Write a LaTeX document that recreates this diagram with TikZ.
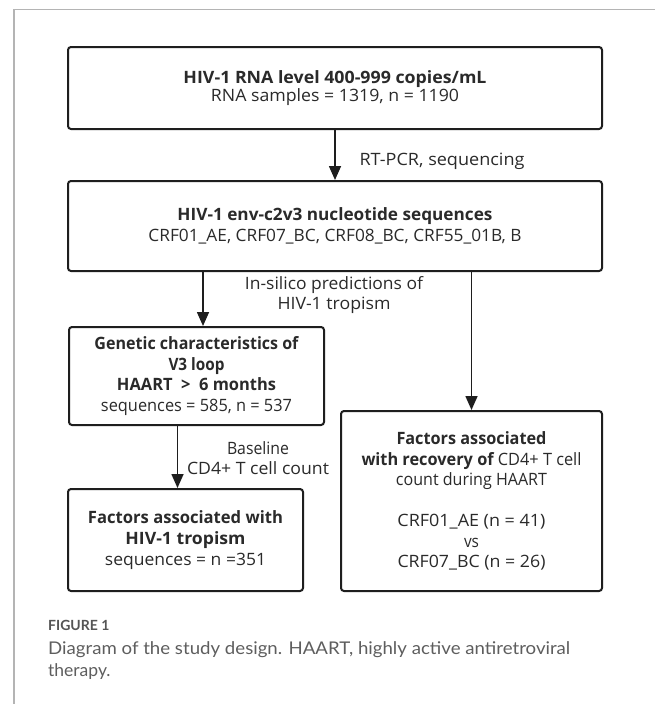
\documentclass[tikz,border=0pt]{standalone}
\usepackage{fontspec}
\usepackage{graphicx}
\setmainfont{Open Sans}
\newfontfamily\capfont{Lato}
\usetikzlibrary{arrows.meta}
\definecolor{ink}{HTML}{1E1E1E}
\definecolor{txt}{HTML}{2A2A2A}
\definecolor{frame}{HTML}{B4B4B4}
\definecolor{capgray}{HTML}{5E5E5E}
\newcommand\fw[2]{\resizebox{#1pt}{\height}{#2}}
\tikzset{
  box/.style={draw=ink, line width=2pt, rounded corners=3pt, inner sep=0pt,
    align=center, text=txt, font=\fontsize{17}{20.7}\selectfont},
  arr/.style={draw=ink, line width=1.6pt, -{Triangle[length=14pt,width=12pt]}},
  lbl/.style={inner sep=0pt, align=center, text=txt, font=\fontsize{17}{20}\selectfont},
  capnode/.style={inner sep=0pt, align=left, text=capgray, font=\capfont\fontsize{17.5}{22}\selectfont},
}
\begin{document}
\begin{tikzpicture}[x=1pt,y=-1pt]
\useasboundingbox (0,0) rectangle (655,704);
\fill[white] (0,0) rectangle (655,704);
% frame
\draw[frame, line width=1.2pt] (655,9.5) -- (14,9.5) -- (14,704);

% boxes
\node[box, minimum width=534pt, minimum height=82pt, font=\fontsize{17}{18}\selectfont] (b1) at (335,88)
  {\fw{303}{\bfseries HIV-1 RNA level 400-999 copies/mL}\\
   \fw{248}{RNA samples = 1319, n = 1190}};
\node[box, minimum width=534pt, minimum height=90pt] (b2) at (335,226)
  {\fw{315}{\bfseries HIV-1 env-c2v3 nucleotide sequences}\\
   \fw{373}{CRF01\_AE, CRF07\_BC, CRF08\_BC, CRF55\_01B, B}};
\node[box, minimum width=255pt, minimum height=98pt] (b3) at (196.5,376)
  {\fw{204}{\bfseries Genetic characteristics of}\\
   \fw{56}{\bfseries V3 loop}\\
   \fw{159}{\bfseries HAART\ \ >\ \ 6 months}\\
   \fw{191}{sequences = 585, n = 537}};
\node[box, minimum width=261pt, minimum height=180pt, font=\fontsize{17}{20.5}\selectfont] (b4) at (471.5,501)
  {\fw{150}{\bfseries Factors associated}\\
   \fw{220}{\bfseries with recovery of \mdseries CD4+ T cell}\\
   \fw{151}{count during HAART}\\[20.5pt]
   \fw{148}{CRF01\_AE (n = 41)}\\
   \fw{15}{vs}\\
   \fw{148}{CRF07\_BC (n = 26)}};
\node[box, minimum width=235pt, minimum height=102pt, font=\fontsize{17}{21}\selectfont] (b5) at (185.5,540)
  {\fw{195}{\bfseries Factors associated with}\\
   \fw{120}{\bfseries HIV-1 tropism}\\
   \fw{161}{sequences = n =351}};

% arrows
\coordinate (c2) at (203,0);
\coordinate (c4) at (177.5,0);
\draw[arr] (b1.south) -- (b2.north);
\draw[arr] (b2.south -| c2) -- (b3.north -| c2);
\draw[arr] (b2.south -| b4.north) -- (b4.north);
\draw[arr] (b3.south -| c4) -- (b5.north -| c4);

% labels
\node[lbl] (l1) at (442,161) {\fw{165}{RT-PCR, sequencing}};
\node[lbl] (l2) at (334,295) {\fw{178}{In-silico predictions of}\\ \fw{113}{HIV-1 tropism}};
\node[lbl] (l3) at (258,458) {\fw{62}{Baseline}\\ \fw{142}{CD4+ T cell count}};

% caption
\node[inner sep=0pt, anchor=west, text=capgray!90!black, font=\capfont\bfseries\fontsize{14}{16}\selectfont] (fig) at (48,625) {FIGURE 1};
\node[capnode, anchor=west] (cap) at (48,661)
  {\fw{522}{Diagram of the study design. HAART, highly active antiretroviral}\\ therapy.};
\end{tikzpicture}
\end{document}
